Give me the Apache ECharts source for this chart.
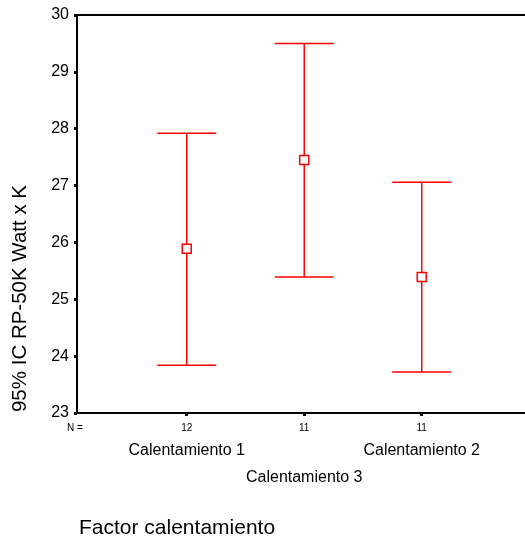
<!DOCTYPE html>
<html><head><meta charset="utf-8">
<script src="https://cdn.jsdelivr.net/npm/echarts@6/dist/echarts.min.js"></script>
<style>html,body{margin:0;padding:0;background:#fff}#c{width:525px;height:541px}</style>
</head><body><div id="c"></div>
<script>
const categories = ['Calentamiento 1', 'Calentamiento 3', 'Calentamiento 2'];
const nValues = [12, 11, 11];
const means = [25.89, 27.45, 25.39];
const lower = [23.84, 25.39, 23.72];
const upper = [27.92, 29.50, 27.06];
const yMin = 23, yMax = 30, yStep = 1;
const yAxisTitle = '95% IC RP-50K Watt x K';
const xAxisTitle = 'Factor calentamiento';
const nPrefix = 'N =';

const FONT = "'Liberation Sans', Arial, sans-serif";
const RED = '#ff0000';
const positions = categories.map((c, i) => i + 1);

const chart = echarts.init(document.getElementById('c'), null, {renderer: 'canvas'});

const barData = categories.map((c, i) => [positions[i], lower[i], upper[i]]);
const meanData = categories.map((c, i) => [positions[i], means[i]]);

chart.setOption({
  animation: false,
  backgroundColor: '#fff',
  grid: {left: 77, right: 0, top: 15, bottom: 128, containLabel: false},
  xAxis: [{
    type: 'value', min: 0.066, max: 3.879, position: 'bottom',
    splitLine: {show: false},
    axisLine: {onZero: false, lineStyle: {color: '#000', width: 2}},
    axisTick: {show: true, customValues: positions, length: 3, lineStyle: {color: '#000', width: 3}},
    axisLabel: {
      show: true, customValues: positions, margin: 7,
      formatter: function (v) {
        const i = Math.round(v) - 1;
        if (i < 0 || i >= categories.length) return '';
        if (i % 2 === 1) return '{n|' + nValues[i] + '}\n{c| }\n{c|' + categories[i] + '}';
        return '{n|' + nValues[i] + '}\n{c|' + categories[i] + '}';
      },
      rich: {
        n: {fontSize: 10, lineHeight: 17, color: '#000', fontFamily: FONT},
        c: {fontSize: 16, lineHeight: 27, color: '#000', fontFamily: FONT}
      }
    }
  }, {
    type: 'value', min: 0.066, max: 3.879, position: 'top',
    splitLine: {show: false},
    axisLine: {onZero: false, lineStyle: {color: '#000', width: 2}},
    axisTick: {show: false}, axisLabel: {show: false}
  }],
  yAxis: {
    type: 'value', min: yMin, max: yMax, interval: yStep,
    splitLine: {show: false},
    axisLine: {show: true, onZero: false, lineStyle: {color: '#000', width: 2}},
    axisTick: {show: true, length: 3, lineStyle: {color: '#000', width: 3}},
    axisLabel: {margin: 8, fontSize: 16, color: '#000', fontFamily: FONT}
  },
  graphic: [
    {type: 'text', x: 20.5, y: 298.5, rotation: Math.PI / 2,
     style: {text: yAxisTitle, fontSize: 20.5, fontFamily: FONT, fill: '#000', align: 'center', verticalAlign: 'middle'}},
    {type: 'text', x: 67, y: 428.5,
     style: {text: nPrefix, fontSize: 10, fontFamily: FONT, fill: '#000', align: 'left', verticalAlign: 'middle'}},
    {type: 'text', x: 79, y: 528,
     style: {text: xAxisTitle, fontSize: 21, fontFamily: FONT, fill: '#000', align: 'left', verticalAlign: 'middle'}}
  ],
  series: [{
    type: 'custom',
    data: barData,
    z: 2,
    renderItem: function (params, api) {
      const x = api.value(0);
      const lo = api.coord([x, api.value(1)]);
      const hi = api.coord([x, api.value(2)]);
      const hw = 29.5;
      const st = {stroke: RED, lineWidth: 1.5, fill: null};
      return {type: 'group', children: [
        {type: 'line', shape: {x1: lo[0], y1: lo[1], x2: hi[0], y2: hi[1]}, style: st},
        {type: 'line', shape: {x1: hi[0] - hw, y1: hi[1], x2: hi[0] + hw, y2: hi[1]}, style: st},
        {type: 'line', shape: {x1: lo[0] - hw, y1: lo[1], x2: lo[0] + hw, y2: lo[1]}, style: st}
      ]};
    }
  }, {
    type: 'scatter',
    data: meanData,
    z: 5,
    symbol: 'rect',
    symbolSize: 9,
    itemStyle: {color: '#fff', borderColor: RED, borderWidth: 1.5, opacity: 1}
  }]
});
</script></body></html>
